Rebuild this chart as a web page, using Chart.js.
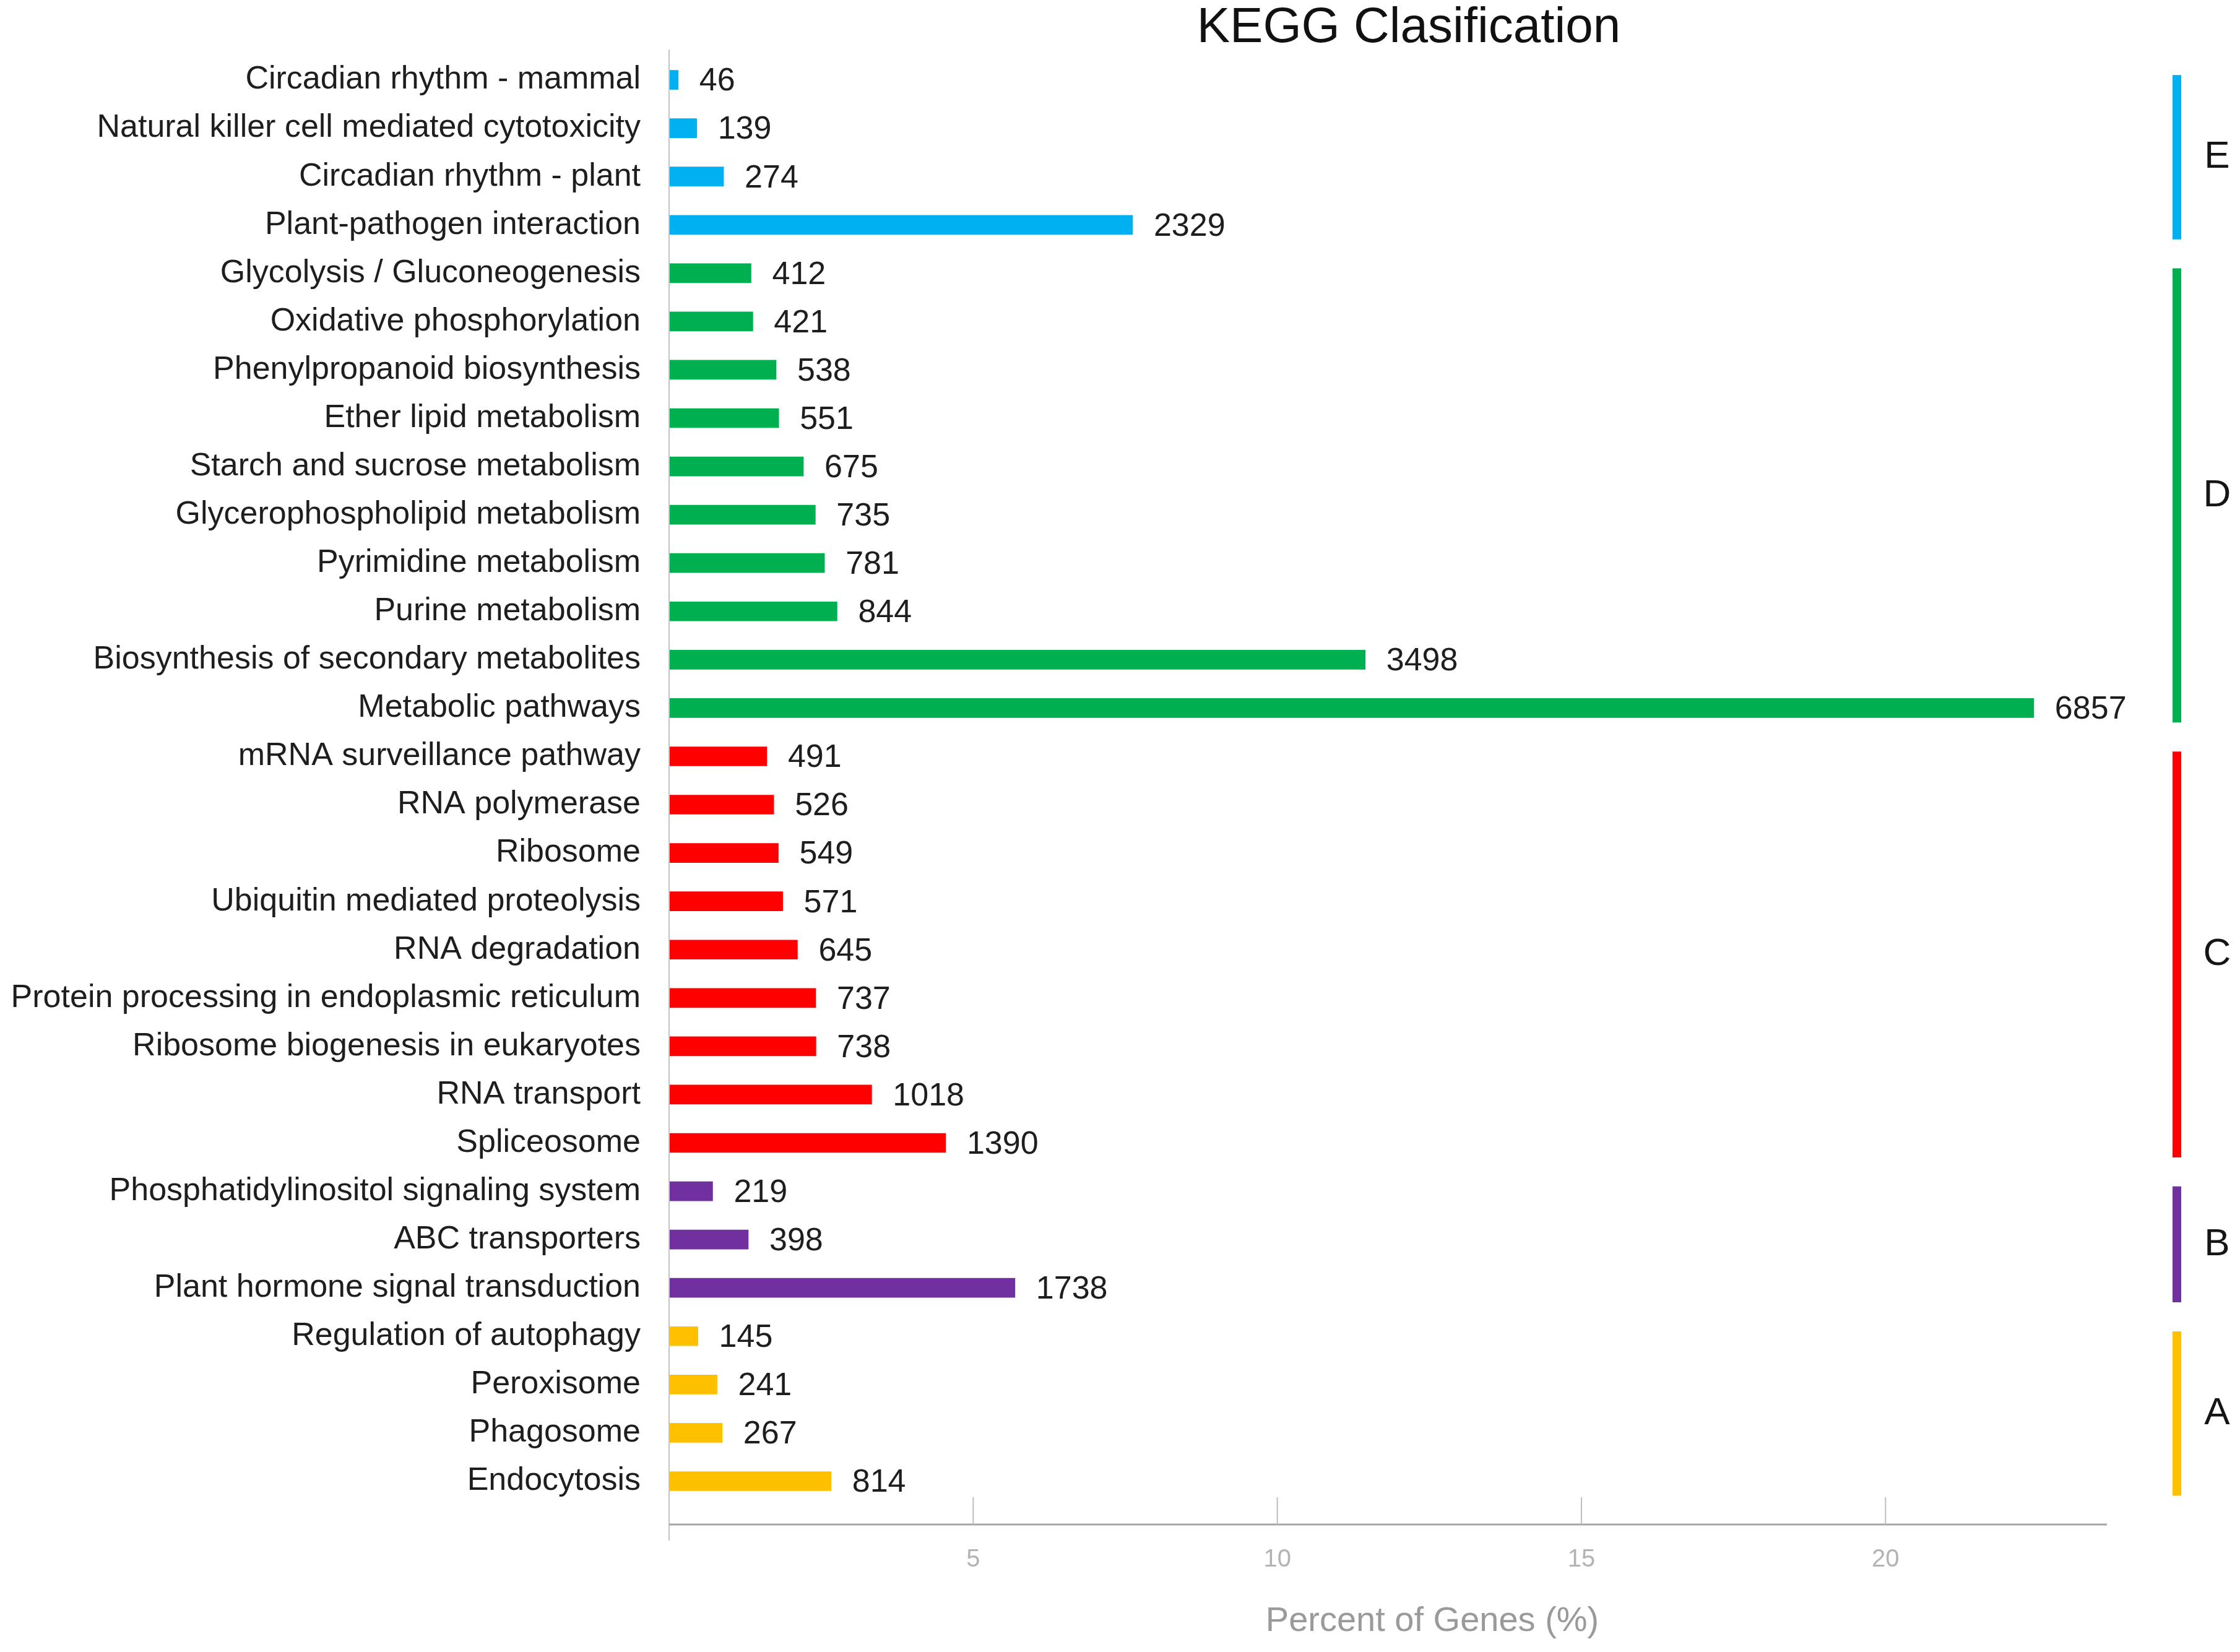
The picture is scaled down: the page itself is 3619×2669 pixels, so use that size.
<!DOCTYPE html>
<html>
<head>
<meta charset="utf-8">
<title>KEGG Clasification</title>
<script src="https://cdn.jsdelivr.net/npm/chart.js@4/dist/chart.umd.min.js"></script>
<style>
  html, body { margin: 0; padding: 0; background: #fff; }
  #wrap { width: 3619px; height: 2669px; position: relative; }
</style>
</head>
<body>
<div id="wrap"><canvas id="kegg-chart"></canvas></div>
<script>
// pathways, top to bottom
const categories = [
  'Circadian rhythm - mammal', 'Natural killer cell mediated cytotoxicity', 'Circadian rhythm - plant',
  'Plant-pathogen interaction',
  'Glycolysis / Gluconeogenesis', 'Oxidative phosphorylation', 'Phenylpropanoid biosynthesis',
  'Ether lipid metabolism', 'Starch and sucrose metabolism', 'Glycerophospholipid metabolism',
  'Pyrimidine metabolism', 'Purine metabolism', 'Biosynthesis of secondary metabolites', 'Metabolic pathways',
  'mRNA surveillance pathway', 'RNA polymerase', 'Ribosome', 'Ubiquitin mediated proteolysis',
  'RNA degradation', 'Protein processing in endoplasmic reticulum', 'Ribosome biogenesis in eukaryotes',
  'RNA transport', 'Spliceosome',
  'Phosphatidylinositol signaling system', 'ABC transporters', 'Plant hormone signal transduction',
  'Regulation of autophagy', 'Peroxisome', 'Phagosome', 'Endocytosis'
];
const geneCounts = [
  46, 139, 274, 2329,
  412, 421, 538, 551, 675, 735, 781, 844, 3498, 6857,
  491, 526, 549, 571, 645, 737, 738, 1018, 1390,
  219, 398, 1738,
  145, 241, 267, 814
];
const groupLabels = ['E', 'D', 'C', 'B', 'A'];
const groupSizes = [4, 10, 9, 3, 4];
const percentTicks = [5, 10, 15, 20];
const totalGenes = 30560;   // estimated from bar lengths vs. the % axis
const axisMaxPercent = 23.64;

const groupColors = ['#00b0f0', '#00b050', '#ff0000', '#7030a0', '#ffc000'];
const FONT = '"Liberation Sans", Arial, sans-serif';

// colour of each bar from its group
const barColors = [];
groupSizes.forEach((n, g) => { for (let i = 0; i < n; i++) barColors.push(groupColors[g]); });

const extras = {
  id: 'extras',
  afterDatasetsDraw(chart) {
    const { ctx, chartArea, scales: { x, y } } = chart;
    const axisY = chartArea.bottom + 31;
    const row = y.getPixelForValue(1) - y.getPixelForValue(0);
    ctx.save();

    // value labels
    ctx.font = '52px ' + FONT;
    ctx.fillStyle = '#1e1e1e';
    ctx.textAlign = 'left';
    ctx.textBaseline = 'middle';
    geneCounts.forEach((v, i) => {
      ctx.fillText(String(v), x.getPixelForValue(v) + 34, y.getPixelForValue(i) + 3);
    });

    // left axis line
    ctx.strokeStyle = '#c4c4c4';
    ctx.lineWidth = 2;
    ctx.beginPath();
    ctx.moveTo(chartArea.left, chartArea.top - 10);
    ctx.lineTo(chartArea.left, axisY + 26);
    ctx.stroke();

    // bottom axis line + tick marks pointing up
    ctx.strokeStyle = '#a6a6a6';
    ctx.lineWidth = 3;
    ctx.beginPath();
    ctx.moveTo(chartArea.left, axisY);
    ctx.lineTo(chartArea.right, axisY);
    ctx.stroke();
    ctx.strokeStyle = '#bdbdbd';
    ctx.lineWidth = 2;
    percentTicks.forEach(p => {
      const px = x.getPixelForValue(p * totalGenes / 100);
      ctx.beginPath();
      ctx.moveTo(px, axisY - 44);
      ctx.lineTo(px, axisY);
      ctx.stroke();
    });

    // group brackets on the right
    let start = 0;
    groupSizes.forEach((n, g) => {
      const y0 = y.getPixelForValue(start) - 0.1 * row;
      const y1 = y.getPixelForValue(start + n - 1) + 0.3 * row;
      ctx.strokeStyle = groupColors[g];
      ctx.lineWidth = 14;
      ctx.beginPath();
      ctx.moveTo(3517, y0);
      ctx.lineTo(3517, y1);
      ctx.stroke();
      ctx.fillStyle = '#151515';
      ctx.font = '62px ' + FONT;
      ctx.textAlign = 'center';
      ctx.fillText(groupLabels[g], 3582, (y0 + y1) / 2);
      start += n;
    });

    // chart title and axis title
    ctx.fillStyle = '#111';
    ctx.font = '80px ' + FONT;
    ctx.textAlign = 'center';
    ctx.fillText('KEGG Clasification', 2276, 46);
    ctx.fillStyle = '#9a9a9a';
    ctx.font = '56px ' + FONT;
    ctx.fillText('Percent of Genes (%)', 2314, 2620);
    ctx.restore();
  }
};

new Chart(document.getElementById('kegg-chart'), {
  type: 'bar',
  data: {
    labels: categories,
    datasets: [{
      data: geneCounts,
      backgroundColor: barColors,
      barThickness: 31,
    }],
  },
  options: {
    indexAxis: 'y',
    responsive: true,
    maintainAspectRatio: false,
    devicePixelRatio: 1,
    animation: false,
    layout: { padding: { top: 90, right: 215, bottom: 0, left: 0 } },
    plugins: {
      legend: { display: false },
      title: { display: false },
      tooltip: { enabled: false },
    },
    scales: {
      y: {
        grid: { display: false },
        border: { display: false },
        ticks: {
          color: '#1e1e1e',
          font: { family: FONT, size: 52 },
          padding: 38,
          autoSkip: false,
        },
        afterFit(scale) { scale.width = 1081; },
      },
      x: {
        min: 0,
        max: axisMaxPercent * totalGenes / 100,
        grid: { display: false, drawTicks: false },
        border: { display: false },
        afterBuildTicks(scale) {
          scale.ticks = percentTicks.map(p => ({ value: p * totalGenes / 100 }));
        },
        ticks: {
          color: '#b3b3b3',
          font: { family: FONT, size: 40 },
          padding: 64,
          maxRotation: 0,
          callback: (value) => String(Math.round(value / totalGenes * 100)),
        },
        afterFit(scale) { scale.height = 237; },
      },
    },
  },
  plugins: [extras],
});
</script>
</body>
</html>
